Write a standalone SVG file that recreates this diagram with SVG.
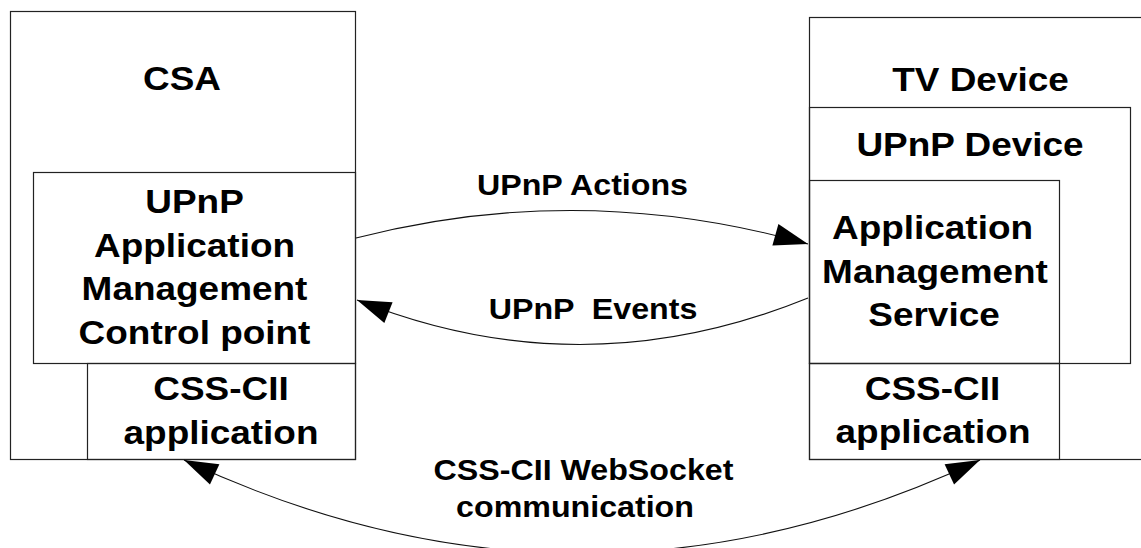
<svg xmlns="http://www.w3.org/2000/svg" width="1141" height="548" viewBox="0 0 1141 548">
  <style>
    .box { fill: none; stroke: #222; stroke-width: 1.2; }
    .t { font-family: "Liberation Sans", Arial, sans-serif; font-weight: bold; font-size: 33px; fill: #000; text-anchor: middle; }
    .l { font-family: "Liberation Sans", Arial, sans-serif; font-weight: bold; font-size: 29px; fill: #000; text-anchor: middle; }
    .conn { fill: none; stroke: #111; stroke-width: 1.1; }
  </style>
  <defs>
    <marker id="ah" markerUnits="userSpaceOnUse" markerWidth="36" markerHeight="24" viewBox="-33 -11 34 22" refX="0" refY="0" orient="auto-start-reverse">
      <path d="M0,0 L-32,-10.5 L-32,10.5 Z" fill="#000"/>
    </marker>
  </defs>
  <rect width="1141" height="548" fill="#fff"/>

  <g id="csa">
    <rect class="box" x="10.5" y="11.5" width="345" height="448"/>
    <text class="t" transform="translate(182,90) scale(1.12,1)">CSA</text>
  </g>
  <g id="upnp-control-point">
    <rect class="box" x="33.5" y="172.5" width="322" height="191"/>
    <text class="t" transform="translate(194.5,213) scale(1.12,1)">UPnP</text>
    <text class="t" transform="translate(194.5,257) scale(1.12,1)">Application</text>
    <text class="t" transform="translate(194.5,300) scale(1.12,1)">Management</text>
    <text class="t" transform="translate(194.5,344) scale(1.12,1)">Control point</text>
  </g>
  <g id="css-cii-left">
    <rect class="box" x="87.5" y="363.5" width="268" height="96"/>
    <text class="t" transform="translate(221,400) scale(1.12,1)">CSS-CII</text>
    <text class="t" transform="translate(221,444) scale(1.12,1)">application</text>
  </g>

  <g id="tv-device">
    <rect class="box" x="809.5" y="17.5" width="400" height="442"/>
    <text class="t" transform="translate(980.5,91) scale(1.12,1)">TV Device</text>
  </g>
  <g id="upnp-device">
    <rect class="box" x="809.5" y="107.5" width="321" height="256"/>
    <text class="t" transform="translate(970,156) scale(1.12,1)">UPnP Device</text>
  </g>
  <g id="app-mgmt-service">
    <rect class="box" x="809.5" y="180.5" width="250" height="183"/>
    <text class="t" transform="translate(932.5,239) scale(1.12,1)">Application</text>
    <text class="t" transform="translate(935,283) scale(1.12,1)">Management</text>
    <text class="t" transform="translate(934,326) scale(1.12,1)">Service</text>
  </g>
  <g id="css-cii-right">
    <rect class="box" x="809.5" y="363.5" width="250" height="96"/>
    <text class="t" transform="translate(932.5,400) scale(1.12,1)">CSS-CII</text>
    <text class="t" transform="translate(933,443) scale(1.12,1)">application</text>
  </g>

  <g id="connectors">
    <path class="conn" d="M356,238 Q582,180 808,244" marker-end="url(#ah)"/>
    <path class="conn" d="M808,298 Q582,390 357,300" marker-end="url(#ah)"/>
    <path class="conn" d="M184,460 Q582,647 980,460" marker-start="url(#ah)" marker-end="url(#ah)"/>
    <text class="l" transform="translate(582.5,195) scale(1.11,1)">UPnP Actions</text>
    <text class="l" xml:space="preserve" transform="translate(593,319) scale(1.11,1)">UPnP  Events</text>
    <text class="l" transform="translate(583.5,480) scale(1.11,1)">CSS-CII WebSocket</text>
    <text class="l" transform="translate(575,517) scale(1.11,1)">communication</text>
  </g>
</svg>
